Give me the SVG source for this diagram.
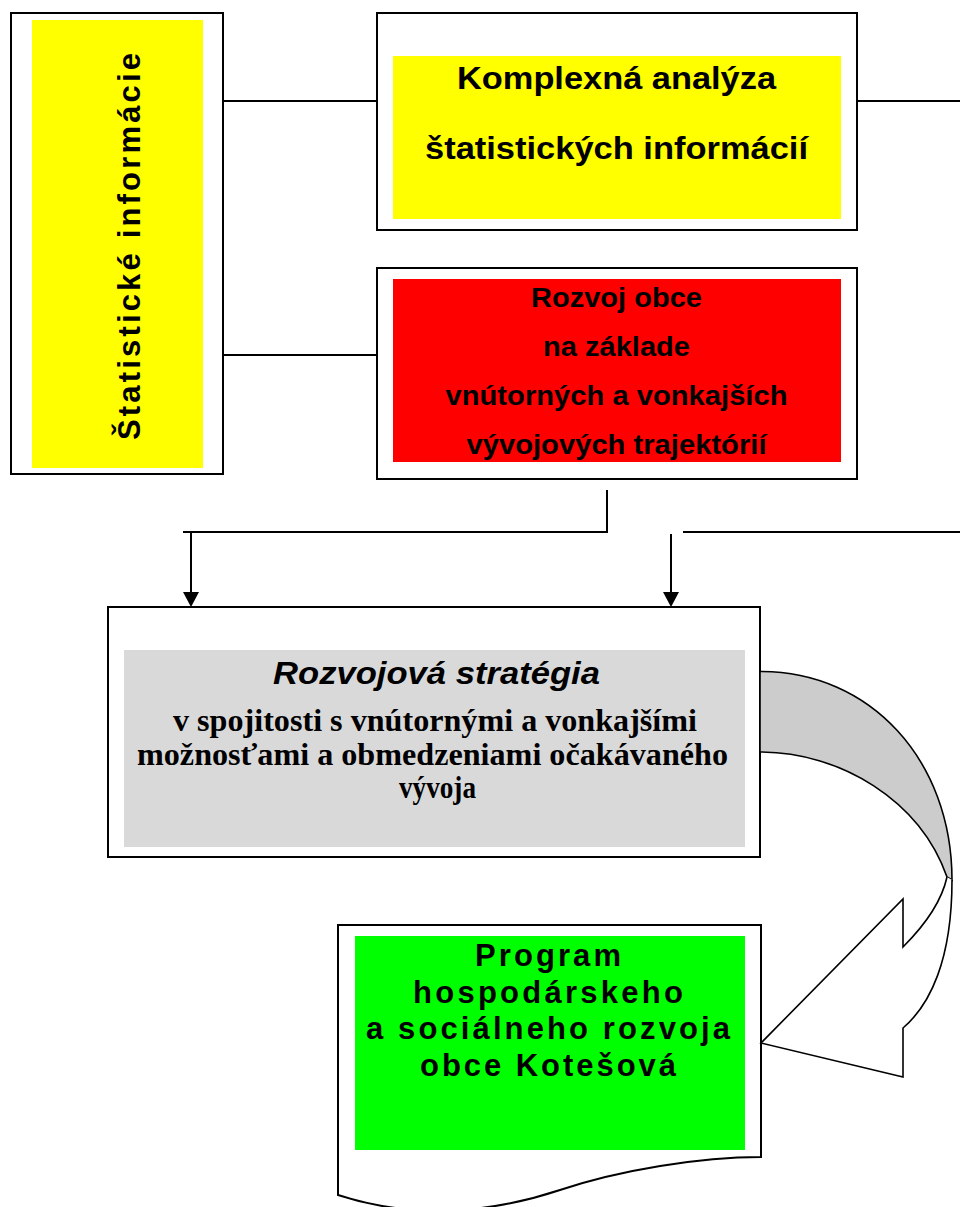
<svg xmlns="http://www.w3.org/2000/svg" width="960" height="1207" viewBox="0 0 960 1207">
<style>
.box{fill:#fff;stroke:#000;stroke-width:2}
.ln{fill:none;stroke:#000;stroke-width:2}
.ar{fill:#fff;stroke:#000;stroke-width:1.6;stroke-linejoin:miter}
.sb{font-family:"Liberation Sans",Arial,sans-serif;font-weight:bold;fill:#000;text-anchor:middle}
.tb{font-family:"Liberation Serif","Times New Roman",serif;font-weight:bold;fill:#000;text-anchor:middle}
</style>
<rect width="960" height="1207" fill="#fff"/>

<g id="connectors">
<line class="ln" x1="223" y1="101" x2="377" y2="101"/>
<line class="ln" x1="223" y1="355" x2="377" y2="355"/>
<line class="ln" x1="857" y1="101" x2="960" y2="101"/>
<polyline class="ln" points="607,490 607,532 183,532"/>
<line class="ln" x1="191" y1="532" x2="191" y2="592"/>
<path d="M183,592 L199,592 L191,607 Z" fill="#000"/>
<line class="ln" x1="671" y1="534" x2="671" y2="592"/>
<path d="M663,592 L679,592 L671,607 Z" fill="#000"/>
<line class="ln" x1="683" y1="532" x2="960" y2="532"/>
</g>

<g id="node-statisticke">
<rect class="box" x="11" y="13" width="212" height="461"/>
<rect x="32" y="20" width="171" height="448" fill="#ffff00"/>
<text class="sb" font-size="31" transform="translate(140,246.5) rotate(-90)" textLength="387" lengthAdjust="spacing">Štatistické informácie</text>
</g>

<g id="node-analyza">
<rect class="box" x="377" y="13" width="480" height="217"/>
<rect x="393" y="56" width="448" height="163" fill="#ffff00"/>
<text class="sb" font-size="32" x="616.5" y="89" textLength="319" lengthAdjust="spacingAndGlyphs">Komplexná analýza</text>
<text class="sb" font-size="32" x="616.5" y="159" textLength="383" lengthAdjust="spacingAndGlyphs">štatistických informácií</text>
</g>

<g id="node-rozvoj">
<rect class="box" x="377" y="268" width="480" height="211"/>
<rect x="393" y="279" width="448" height="183" fill="#ff0000"/>
<text class="sb" font-size="27" x="616.5" y="307" textLength="171" lengthAdjust="spacingAndGlyphs">Rozvoj obce</text>
<text class="sb" font-size="27" x="616.5" y="356" textLength="147" lengthAdjust="spacingAndGlyphs">na základe</text>
<text class="sb" font-size="27" x="616.5" y="405" textLength="342" lengthAdjust="spacingAndGlyphs">vnútorných a vonkajších</text>
<text class="sb" font-size="27" x="616.5" y="454" textLength="300" lengthAdjust="spacingAndGlyphs">vývojových trajektórií</text>
</g>

<g id="node-strategia">
<rect class="box" x="108" y="607" width="652" height="250"/>
<rect x="124" y="650" width="621" height="197" fill="#d9d9d9"/>
<text class="sb" font-size="31" font-style="italic" x="436.5" y="684" textLength="327" lengthAdjust="spacingAndGlyphs">Rozvojová stratégia</text>
<text class="tb" font-size="31" x="435" y="731" textLength="524" lengthAdjust="spacingAndGlyphs">v spojitosti s vnútornými a vonkajšími</text>
<text class="tb" font-size="31" x="432.5" y="765" textLength="591" lengthAdjust="spacingAndGlyphs">možnosťami a obmedzeniami očakávaného</text>
<text class="tb" font-size="31" x="437.5" y="798" textLength="77" lengthAdjust="spacingAndGlyphs">vývoja</text>
</g>

<g id="node-program">
<path class="box" d="M338,925 L761,925 L761,1157 C700,1157 620,1170 560,1190 C500,1210 420,1222 338,1195 Z"/>
<rect x="355" y="936" width="390" height="214" fill="#00ff00"/>
<text class="sb" font-size="31" x="548" y="966" textLength="146" lengthAdjust="spacing">Program</text>
<text class="sb" font-size="31" x="548" y="1002.5" textLength="270" lengthAdjust="spacing">hospodárskeho</text>
<text class="sb" font-size="31" x="548" y="1039" textLength="364" lengthAdjust="spacing">a sociálneho rozvoja</text>
<text class="sb" font-size="31" x="548" y="1075.5" textLength="256" lengthAdjust="spacing">obce Kotešová</text>
</g>

<g id="curved-arrow">
<path d="M760,671.5 C870,671 952,760 952,880 L947,877 C920,800 840,752 760,752 Z" fill="#cccccc" stroke="#000" stroke-width="1.6"/>
<path class="ar" d="M947,877 C942,900 925,925 903,947 L903,899 L761,1043 L903,1077 L903,1028 C930,1005 952,960 952,880"/>
</g>
</svg>
